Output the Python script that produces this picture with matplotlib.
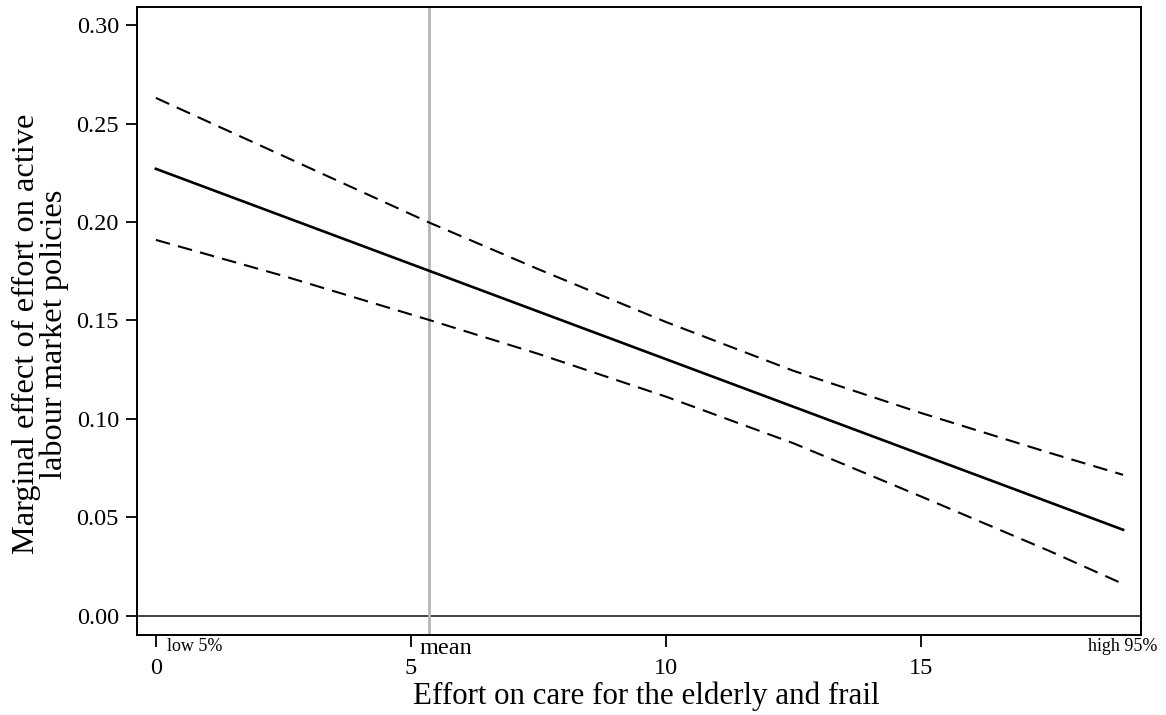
import matplotlib
matplotlib.use('Agg')
import matplotlib.pyplot as plt
import matplotlib.transforms as mtransforms

plt.rcParams['font.family'] = ['Liberation Serif', 'DejaVu Serif']

# marginal effect (solid line) at the two ends of the observed range
x_me = [0, 18.96]
y_me = [0.227, 0.0437]

# confidence bounds
x_ci = [0, 2.5, 5.35, 7.5, 10, 12.5, 15, 17.5, 18.96]
upper = [0.263, 0.2335, 0.1998, 0.176, 0.1492, 0.1244, 0.1030, 0.0829, 0.0716]
lower = [0.1909, 0.1726, 0.1503, 0.133, 0.1113, 0.0876, 0.0606, 0.0331, 0.0162]

mean_x = 5.35

xticks = [0, 5, 10, 15]
yticks = [0.00, 0.05, 0.10, 0.15, 0.20, 0.25, 0.30]

# small labels under the axis
note_text = ['low 5%', 'mean', 'high 95%']
note_x = [0.77, 5.69, 18.95]
note_size = [13, 17.5, 13]

fig = plt.figure(figsize=(11.66, 7.15), dpi=100)
ax = fig.add_axes([0.1175, 0.112, 0.861, 0.878])

ax.axhline(0, color='#333333', lw=1.3, zorder=1)
ax.axvline(mean_x, color='#b5b5b5', lw=2, zorder=1)

ax.plot(x_me, y_me, color='black', lw=1.9, zorder=3)
ax.plot(x_ci, upper, color='black', lw=1.5, dashes=(7, 4), zorder=3)
ax.plot(x_ci, lower, color='black', lw=1.5, dashes=(7, 4), zorder=3)

ax.set_xlim(-0.37, 19.31)
ax.set_ylim(-0.0097, 0.3091)

ax.set_xticks(xticks)
ax.set_xticklabels([str(t) for t in xticks])
ax.set_yticks(yticks)
ax.set_yticklabels(['%.2f' % t for t in yticks])

ax.tick_params(axis='x', length=8.5, width=1.3, pad=8, labelsize=17.5)
ax.tick_params(axis='y', length=8, width=1.3, pad=5, labelsize=17.5)

for s in ax.spines.values():
    s.set_linewidth(1.4)
    s.set_color('black')

trans = mtransforms.blended_transform_factory(ax.transData, ax.transAxes)
for t, xx, fs in zip(note_text, note_x, note_size):
    ax.text(xx, -0.005, t, transform=trans, ha='center', va='top',
            fontsize=fs, clip_on=False)

ax.set_xlabel('Effort on care for the elderly and frail', fontsize=22.3, labelpad=2)
ax.xaxis.label.set_x(0.507)
ax.set_ylabel('Marginal effect of effort on active\nlabour market policies',
              fontsize=23.3, linespacing=0.94, labelpad=5)
ax.yaxis.label.set_y(0.479)

fig.savefig('out.png', dpi=100)
